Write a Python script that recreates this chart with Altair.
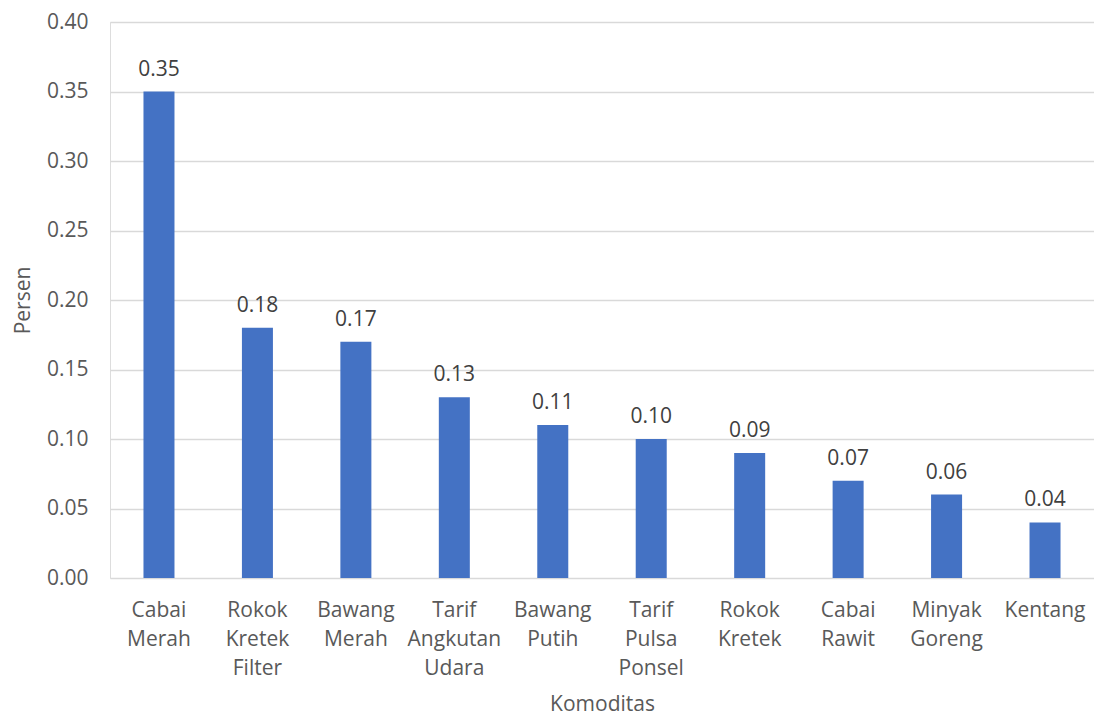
import altair as alt
import pandas as pd

komoditas = ["Cabai|Merah", "Rokok|Kretek|Filter", "Bawang|Merah", "Tarif|Angkutan|Udara",
             "Bawang|Putih", "Tarif|Pulsa|Ponsel", "Rokok|Kretek", "Cabai|Rawit",
             "Minyak|Goreng", "Kentang"]
persen = [0.35, 0.18, 0.17, 0.13, 0.11, 0.10, 0.09, 0.07, 0.06, 0.04]

df = pd.DataFrame({"k": komoditas, "v": persen})

FONT = "Open Sans"
TXT = "#595959"
FS = 21

base = alt.Chart(df).encode(
    x=alt.X("k:N", sort=komoditas, title="Komoditas",
            scale=alt.Scale(paddingInner=0.685, paddingOuter=0.34),
            axis=alt.Axis(labelExpr="split(datum.value, '|')", labelAngle=0,
                          labelFontSize=FS, labelColor=TXT, labelFont=FONT,
                          labelLineHeight=29, labelPadding=21, labelBaseline="top",
                          ticks=False, domain=False, grid=False,
                          titleFontSize=FS, titleColor=TXT, titleFont=FONT,
                          titleFontWeight="normal", titlePadding=15)),
    y=alt.Y("v:Q", title="Persen",
            scale=alt.Scale(domain=[0, 0.4], nice=False),
            axis=alt.Axis(values=[0, 0.05, 0.1, 0.15, 0.2, 0.25, 0.3, 0.35, 0.4],
                          format=".2f", labelFontSize=FS, labelColor=TXT, labelFont=FONT,
                          labelPadding=22, ticks=False, domain=False,
                          gridColor="#d9d9d9", gridWidth=1.5,
                          titleFontSize=FS, titleColor=TXT, titleFont=FONT,
                          titleFontWeight="normal", titlePadding=13)),
)

bars = base.mark_bar(color="#4472C4")
labels = base.mark_text(baseline="bottom", dy=-12, fontSize=FS, font=FONT, color="#404040").encode(
    text=alt.Text("v:Q", format=".2f"))

chart = (bars + labels).properties(
    width=984, height=556,
    autosize=alt.AutoSizeParams(type="none"),
    padding={"left": 110, "top": 22, "right": 0, "bottom": 139},
).configure_view(stroke=None).configure(background="white")

chart.save("out.html", embed_options={"renderer": "svg", "actions": False})
